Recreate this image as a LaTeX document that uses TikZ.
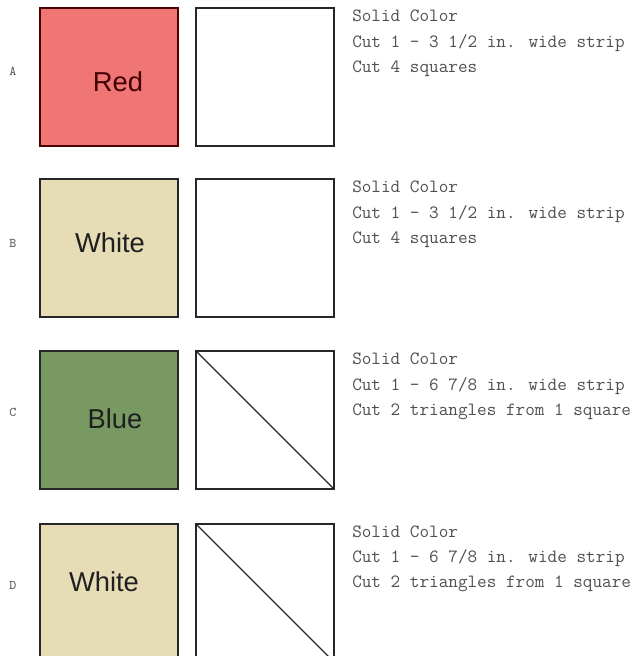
\documentclass[tikz,border=0pt]{standalone}
\usepackage{fontspec}
\setmainfont{Liberation Sans}
\definecolor{redfill}{HTML}{F07575}
\definecolor{greenfill}{HTML}{789A62}
\definecolor{beigefill}{HTML}{E6DCB5}
\definecolor{txtgray}{HTML}{505050}
\begin{document}
\begin{tikzpicture}[x=0.75pt,y=-0.75pt,
  sq/.style={draw=black!85, line width=1.3pt, minimum width=103.5pt, minimum height=103.5pt, inner sep=0pt, outer sep=0pt, anchor=north west},
  colname/.style={font=\fontsize{20.5}{24}\selectfont, text=black!88},
  rowlab/.style={font=\ttfamily\fontsize{10}{12}\selectfont, text=txtgray},
  info/.style={font=\ttfamily\fontsize{14}{16}\selectfont, text=txtgray, anchor=west, inner sep=0pt},
  diag/.style={draw=black!85, line width=0.9pt}]
\useasboundingbox (0,0) rectangle (635,656);
\fill[white] (0,0) rectangle (635,656);
% Row A
\node[sq, fill=redfill, draw=black!70!red] (a1) at (40,8) {};
\node[sq, fill=white] (a2) at (196,8) {};
\node[colname, text=black!75!red] (at) at (118,82) {Red};
\node[rowlab] (al) at (13,71) {A};
\node[info] (a3) at (352,16) {Solid Color};
\node[info] (a4) at (352,43) {Cut 1 - 3 1/2 in. wide strip};
\node[info] (a5) at (352,69) {Cut 4 squares};
% Row B
\node[sq, fill=beigefill] (b1) at (40,179) {};
\node[sq, fill=white] (b2) at (196,179) {};
\node[colname] (bt) at (110,243) {White};
\node[rowlab] (bl) at (13,243) {B};
\node[info] (b3) at (352,187) {Solid Color};
\node[info] (b4) at (352,214) {Cut 1 - 3 1/2 in. wide strip};
\node[info] (b5) at (352,240) {Cut 4 squares};
% Row C
\node[sq, fill=greenfill] (c1) at (40,351) {};
\node[sq, fill=white] (c2) at (196,351) {};
\draw[diag] (c2.north west) -- (c2.south east);
\node[colname] (ct) at (115,419) {Blue};
\node[rowlab] (cl) at (13,412) {C};
\node[info] (c3) at (352,359) {Solid Color};
\node[info] (c4) at (352,386) {Cut 1 - 6 7/8 in. wide strip};
\node[info] (c5) at (352,412) {Cut 2 triangles from 1 square};
% Row D
\node[sq, fill=beigefill] (d1) at (40,524) {};
\node[sq, fill=white] (d2) at (196,524) {};
\draw[diag] (d2.north west) -- (d2.south east);
\node[colname] (dt) at (104,582) {White};
\node[rowlab] (dl) at (13,585) {D};
\node[info] (d3) at (352,532) {Solid Color};
\node[info] (d4) at (352,558) {Cut 1 - 6 7/8 in. wide strip};
\node[info] (d5) at (352,584) {Cut 2 triangles from 1 square};
\end{tikzpicture}
\end{document}
